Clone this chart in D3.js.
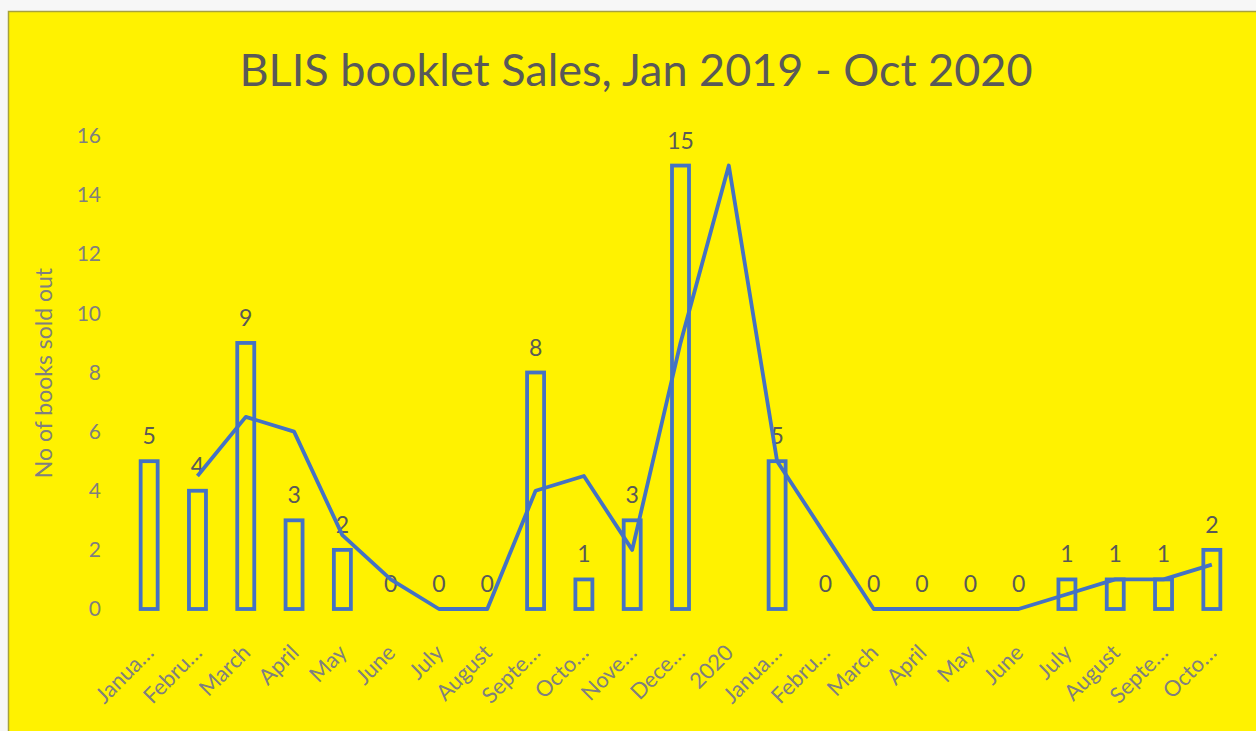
<!DOCTYPE html>
<html>
<head>
<meta charset="utf-8">
<script src="https://cdnjs.cloudflare.com/ajax/libs/d3/7.8.5/d3.min.js"></script>
<style>
  body { margin: 0; background: #f7f7f7; }
  text { font-family: Lato, "Open Sans", sans-serif; }
</style>
</head>
<body>
<script>
const width = 1256,
      height = 731

// month labels as shown on the axis (truncated like the original)
const months = ['Janua…', 'Febru…', 'March', 'April', 'May', 'June', 'July', 'August',
    'Septe…', 'Octo…', 'Nove…', 'Dece…', '2020', 'Janua…', 'Febru…', 'March',
    'April', 'May', 'June', 'July', 'August', 'Septe…', 'Octo…']

// books sold per month (2020 is a separator with no value)
const sales = [5, 4, 9, 3, 2, 0, 0, 0, 8, 1, 3, 15, null, 5, 0, 0, 0, 0, 0, 1, 1, 1, 2]

// 2 period moving average trendline
const trend = [null, 4.5, 6.5, 6, 2.5, 1, 0, 0, 4, 4.5, 2, 9, 15, 5, 2.5, 0, 0, 0, 0, 0.5, 1, 1, 1.5]

const yTicks = [0, 2, 4, 6, 8, 10, 12, 14, 16]

const blue = '#4472c4'

const svg = d3.select('body').append('svg')
    .attr('width', width)
    .attr('height', height)

// chart background
svg.append('rect')
    .attr('x', 8.5)
    .attr('y', 11.5)
    .attr('width', width)
    .attr('height', height)
    .style('fill', '#fff200')
    .style('stroke', '#a6a23c')
    .style('stroke-width', 1.5)

svg.append('text')
    .attr('x', 636)
    .attr('y', 86)
    .attr('text-anchor', 'middle')
    .style('font-size', '45px')
    .style('fill', '#595959')
    .text('BLIS booklet Sales, Jan 2019 - Oct 2020')

const x = d3.scaleBand()
    .domain(d3.range(months.length))
    .range([125, 1236])

const y = d3.scaleLinear()
    .domain([0, 16])
    .range([609, 136])

// y axis (no line, just labels)
const yAxis = svg.append('g')
    .attr('transform', 'translate(101,0)')
    .call(d3.axisLeft(y).tickValues(yTicks).tickSize(0).tickPadding(0))
yAxis.select('.domain').remove()
yAxis.selectAll('text')
    .style('font-family', 'Lato, sans-serif')
    .style('font-size', '21px')
    .style('fill', '#7f7f7f')

svg.append('text')
    .attr('transform', 'translate(52,373) rotate(-90)')
    .attr('text-anchor', 'middle')
    .style('font-size', '23px')
    .style('fill', '#7f7f7f')
    .text('No of books sold out')

// x axis labels rotated
const xAxis = svg.append('g')
    .attr('transform', 'translate(0,609)')
    .call(d3.axisBottom(x).tickFormat(i => months[i]).tickSize(0))
xAxis.select('.domain').remove()
xAxis.selectAll('text')
    .style('font-family', 'Lato, sans-serif')
    .style('font-size', '22px')
    .style('fill', '#7f7f7f')
    .attr('text-anchor', 'end')
    .attr('y', 0)
    .attr('dy', 0)
    .attr('transform', 'translate(6,45) rotate(-45)')

// hollow bars
const barW = 17
svg.selectAll('rect.bar')
    .data(sales.map((v, i) => ({ v, i })).filter(d => d.v !== null && d.v > 0))
    .enter()
    .append('rect')
        .attr('class', 'bar')
        .attr('x', d => x(d.i) + x.bandwidth() / 2 - barW / 2)
        .attr('y', d => y(d.v))
        .attr('width', barW)
        .attr('height', d => y(0) - y(d.v))
        .style('fill', 'none')
        .style('stroke', blue)
        .style('stroke-width', 3.8)

// data labels
svg.selectAll('text.lbl')
    .data(sales.map((v, i) => ({ v, i })).filter(d => d.v !== null))
    .enter()
    .append('text')
        .attr('class', 'lbl')
        .attr('x', d => x(d.i) + x.bandwidth() / 2)
        .attr('y', d => y(d.v) - 17)
        .attr('text-anchor', 'middle')
        .style('font-size', '23px')
        .style('fill', '#595959')
        .text(d => d.v)

// trendline
const line = d3.line()
    .defined(d => d.v !== null)
    .x(d => x(d.i) + x.bandwidth() / 2)
    .y(d => y(d.v))

svg.append('path')
    .datum(trend.map((v, i) => ({ v, i })))
    .attr('d', line)
    .style('fill', 'none')
    .style('stroke', blue)
    .style('stroke-width', 3.8)
    .style('stroke-linejoin', 'round')
</script>
</body>
</html>
